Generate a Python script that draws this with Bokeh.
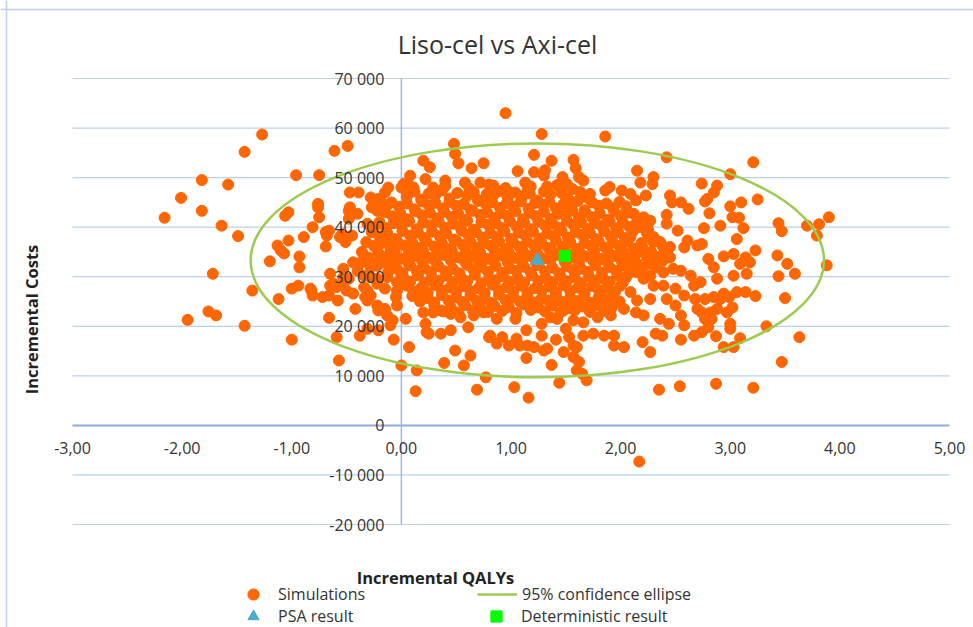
import math
from bokeh.plotting import figure
from bokeh.models import (ColumnDataSource, Range1d, Span, Label, LabelSet, Legend, LegendItem)
from bokeh.core.properties import value
from bokeh.embed import file_html
from bokeh.resources import INLINE

# ---------------- texts ----------------
TITLE = "Liso-cel vs Axi-cel"
X_LABEL = "Incremental QALYs"
Y_LABEL = "Incremental Costs"
legend_labels = ["Simulations", "95% confidence ellipse", "PSA result", "Deterministic result"]

x_min, x_max = -3, 5
y_min, y_max = -20000, 70000
x_ticks = [-3, -2, -1, 0, 1, 2, 3, 4, 5]
x_tick_labels = ["-3,00", "-2,00", "-1,00", "0,00", "1,00", "2,00", "3,00", "4,00", "5,00"]
y_ticks = [-20000, -10000, 0, 10000, 20000, 30000, 40000, 50000, 60000, 70000]
y_tick_labels = ["-20 000", "-10 000", "0", "10 000", "20 000", "30 000", "40 000",
                 "50 000", "60 000", "70 000"]

# ---------------- simulations (QALYs, costs in thousands) ----------------
left_qaly = [
    -2.16, -2.01, -1.82, -1.82, -1.58, -1.64, -1.49, -1.43, -1.27, -0.96,
    -0.75, -0.61, -0.49, -1.72, -1.95, -1.76, -1.69, -1.43, -1.00, -0.66,
    -0.59, -0.57, -0.38, -1.03, -1.06, -0.76, -0.76, -0.75, -0.81, -0.69,
    -0.68, -0.89, -1.03, -1.13, -1.10, -1.07, -0.69, -0.93, -1.20, -0.93,
    -0.56, -0.51, -0.45, -0.48, -0.40, -0.47, -0.47, -0.39, -0.28, -0.21,
    -0.12, -0.15, -0.27, -0.22, -0.13, -0.31, -0.25, -0.04, 0.08, 0.20,
    0.22, 0.07, 0.11, 0.02, -0.53, -0.44, -0.34, -0.16, -0.28, -0.40,
    -0.65, -1.36, -1.12, -1.00, -0.94, -0.82, -0.81, -0.66, -0.65, -0.59,
    -0.53, -0.50, -0.33, -0.28, -0.42, -0.22, -0.21, -0.15, -0.13, -0.08,
    -0.10, -0.04, -0.05, -0.21, -0.31, -0.48, -0.34, -0.22, -0.13, -0.04,
    -0.01, -0.34, -0.22, -0.15, -0.04, -0.19, -0.48, -0.54, -0.66, -0.15,
    -0.37, -0.31, -0.25, -0.19, -0.13, -0.28, -0.53, -0.62, -0.44, -0.31,
    -0.31, -0.58, -0.72, -0.83, 0.00,
]
left_cost_k = [
    41.9, 45.9, 49.5, 43.3, 48.6, 40.3, 38.2, 55.2, 58.7, 50.5,
    50.5, 55.4, 56.4, 30.6, 21.3, 23.0, 22.2, 20.1, 17.3, 21.7,
    17.8, 13.1, 18.1, 43.0, 42.3, 44.7, 44.0, 42.0, 40.0, 39.0,
    38.3, 38.0, 37.3, 36.3, 35.3, 34.7, 36.1, 34.1, 33.1, 31.9,
    38.0, 37.0, 38.3, 43.3, 42.7, 44.0, 47.0, 47.0, 46.0, 45.7,
    48.0, 47.0, 44.0, 43.3, 44.4, 40.7, 40.0, 41.3, 50.4, 53.4,
    49.7, 48.4, 48.0, 48.7, 31.6, 32.9, 33.3, 33.9, 31.9, 31.2,
    30.6, 27.2, 25.5, 27.6, 28.2, 27.2, 26.2, 26.2, 28.2, 27.9,
    28.6, 27.2, 25.9, 26.2, 23.5, 24.2, 23.2, 23.5, 22.2, 21.2,
    20.2, 24.2, 25.9, 19.2, 19.5, 29.6, 30.2, 29.6, 29.9, 28.9,
    30.9, 27.9, 28.6, 27.6, 27.2, 45.4, 41.7, 38.6, 39.3, 37.3,
    32.9, 33.6, 32.6, 33.6, 32.6, 29.9, 29.9, 28.6, 26.6, 27.2,
    25.2, 25.2, 25.9, 27.6, 48.0,
]

low_qaly = [
    -0.07, 0.04, 0.07, 0.00, 0.14, 0.13, 0.20, 0.22, 0.23, 0.19,
    0.29, 0.36, 0.45, 0.54, 0.66, 0.75, 0.25, 0.36, 0.45, 0.61,
    0.80, 0.49, 0.63, 0.57, 0.39, 0.69, 0.77, 1.03, 1.16, 1.44,
    1.69, 1.65, 1.60, 1.62, 1.57, 1.37, 1.14, 0.81, 0.87, 0.92,
    0.98, 1.05, 1.08, 1.15, 1.21, 1.30, 1.33, 1.28, 1.41, 1.48,
    1.14, 1.28, 1.04, 0.87, 1.50, 1.53, 1.57, 1.60, 1.66, 1.75,
    1.85, 1.94, 2.03, 1.94, 1.36, 1.42, 1.48, 1.57, 1.66, 1.79,
    1.91, 2.03, 2.17,
]
low_cost_k = [
    17.3, 21.5, 15.8, 12.1, 11.1, 6.9, 22.8, 20.5, 18.8, 26.6,
    22.8, 23.2, 22.5, 21.8, 22.2, 22.8, 18.5, 18.5, 19.2, 19.8,
    17.8, 15.1, 14.1, 12.1, 12.6, 7.2, 9.7, 7.7, 5.6, 8.6,
    9.1, 10.4, 11.1, 12.8, 13.8, 12.2, 13.6, 18.1, 16.5, 17.8,
    16.1, 17.5, 16.1, 16.1, 15.8, 15.1, 15.5, 18.1, 17.3, 14.8,
    19.2, 20.5, 21.5, 21.5, 19.5, 17.8, 16.1, 15.8, 18.1, 18.5,
    18.1, 16.1, 15.8, 18.1, 21.8, 21.5, 23.2, 21.2, 20.8, 21.8,
    22.2, 23.5, -7.3,
]

right_qaly = [
    2.35, 2.54, 2.87, 3.21, 3.47, 3.63, 3.50, 3.44, 3.59, 3.23,
    3.33, 3.09, 3.03, 2.94, 2.87, 3.00, 3.00, 2.55, 2.38, 2.32,
    2.20, 2.27, 2.67, 2.74, 2.80, 2.83, 2.77, 2.70, 2.74, 2.82,
    2.88, 2.97, 3.02, 3.06, 3.14, 2.99, 2.91, 2.85, 2.77, 2.68,
    2.58, 2.50, 2.42, 2.39, 2.27, 2.15, 2.14, 2.21, 2.36, 2.44,
    2.58, 2.55, 2.50, 2.67, 2.73, 2.88, 3.03, 3.15, 2.64, 2.55,
    2.39, 2.15, 2.21, 2.27, 2.30, 2.09, 2.94, 3.88, 3.23, 3.43,
    3.52, 3.03, 3.14, 3.18, 3.09, 2.94, 2.80, 2.85, 2.70, 2.58,
    2.52, 2.61, 2.74, 2.48, 2.39, 2.27, 2.21, 2.15, 2.24, 2.12,
    2.33, 2.10, 2.38, 2.39, 2.45, 2.20, 2.30, 2.09, 2.26, 2.18,
]
right_cost_k = [
    7.2, 7.9, 8.4, 7.6, 12.8, 17.8, 25.7, 30.1, 30.6, 26.1,
    20.0, 17.6, 15.8, 15.8, 18.0, 19.5, 20.5, 17.3, 18.1, 18.5,
    16.8, 14.8, 18.1, 18.8, 19.8, 21.5, 21.5, 23.5, 22.8, 22.8,
    23.5, 22.8, 23.8, 26.9, 26.9, 25.9, 25.5, 25.9, 25.5, 25.5,
    26.2, 27.6, 25.5, 28.2, 25.5, 25.2, 22.8, 22.2, 21.5, 20.5,
    20.2, 22.2, 24.2, 28.2, 28.9, 29.6, 30.2, 30.6, 30.2, 31.2,
    30.9, 30.9, 29.6, 30.2, 28.2, 26.9, 26.6, 32.3, 35.3, 34.3,
    32.6, 34.6, 33.9, 32.9, 32.6, 34.1, 33.6, 31.9, 36.3, 35.9,
    39.3, 37.3, 36.6, 31.6, 33.3, 32.6, 35.3, 32.6, 33.9, 33.9,
    31.9, 31.9, 36.3, 34.6, 33.9, 36.0, 37.0, 38.0, 38.0, 40.0,
]

high_qaly = [
    0.95, 1.28, 1.86, 0.48, 0.49, 0.52, 0.64, 0.75, 1.21, 1.37,
    1.57, 1.59, 1.06, 1.21, 1.31, 1.30, 1.47, 1.62, 1.66, 1.51,
    0.40, 0.29, 0.26, 0.58, 0.72, 0.84, 0.99, 1.13, 1.15, 1.33,
    1.86, 2.01, 1.72, 2.42, 3.21, 3.00, 2.15, 2.18, 2.30, 2.29,
    2.74, 2.88, 2.85, 2.79, 2.77, 2.45, 2.55, 2.62, 2.47, 3.00,
    3.10, 3.25, 2.81, 2.42, 2.42, 3.02, 3.08, 2.76, 2.91, 3.12,
    3.06, 3.44, 3.47, 3.70, 3.81, 3.79, 3.90, 2.09, 2.14, 2.23,
    2.12, 2.21, 2.27,
]
high_cost_k = [
    63.0, 58.8, 58.3, 56.8, 54.8, 52.9, 51.9, 52.9, 54.6, 53.4,
    53.6, 51.9, 51.3, 51.1, 51.5, 50.4, 50.1, 50.1, 49.4, 48.7,
    49.4, 48.0, 52.1, 49.0, 49.0, 48.4, 47.0, 49.0, 47.4, 48.2,
    47.4, 47.4, 46.7, 54.1, 53.1, 50.7, 51.4, 49.0, 50.1, 48.7,
    48.8, 48.4, 47.0, 45.7, 45.2, 46.4, 45.0, 43.7, 45.0, 44.2,
    45.0, 45.6, 42.8, 42.5, 40.7, 42.0, 41.9, 39.8, 40.3, 39.8,
    37.6, 40.8, 39.2, 40.3, 40.6, 38.3, 42.0, 46.7, 45.4, 46.4,
    42.7, 42.0, 41.3,
]

core_qaly = [
    0.40, 0.62, 0.80, 0.95, 1.18, 1.42, 1.56, 1.90,
    0.05, 0.18, 0.31, 0.44, 0.60, 0.70, 0.85, 0.97, 1.10, 1.24, 1.36, 1.52, 1.70,
    -0.02, 0.12, 0.25, 0.38, 0.50, 0.63, 0.77, 0.90, 1.02, 1.16, 1.29, 1.41, 1.55, 1.67, 1.80, 1.93, 2.05,
    -0.08, 0.06, 0.19, 0.33, 0.46, 0.58, 0.72, 0.85, 0.97, 1.11, 1.23, 1.36, 1.49, 1.62, 1.74, 1.88, 2.00,
    -0.14, 0.00, 0.14, 0.27, 0.40, 0.53, 0.66, 0.79, 0.92, 1.05, 1.18, 1.31, 1.44, 1.57, 1.70, 1.83, 1.96, 2.08, 2.25,
    -0.20, -0.06, 0.08, 0.21, 0.35, 0.48, 0.61, 0.74, 0.87, 1.00, 1.13, 1.26, 1.39, 1.52, 1.65, 1.78, 1.91, 2.04, 2.30,
    -0.25, -0.10, 0.03, 0.16, 0.30, 0.43, 0.56, 0.69, 0.82, 0.95, 1.08, 1.21, 1.34, 1.47, 1.60, 1.73, 1.86, 1.99, 2.12, 2.45,
    -0.30, -0.12, 0.00, 0.13, 0.26, 0.39, 0.52, 0.65, 0.78, 0.91, 1.04, 1.17, 1.30, 1.43, 1.56, 1.69, 1.82, 1.95, 2.08, 2.32,
    -0.22, -0.05, 0.08, 0.21, 0.34, 0.47, 0.60, 0.73, 0.86, 0.99, 1.12, 1.25, 1.38, 1.51, 1.64, 1.77, 1.90, 2.03, 2.20,
    0.02, 0.15, 0.28, 0.41, 0.54, 0.67, 0.80, 0.93, 1.06, 1.19, 1.32, 1.45, 1.58, 1.71, 1.84, 1.97, 2.05,
    0.05, 0.18, 0.31, 0.44, 0.57, 0.70, 0.83, 0.96, 1.09, 1.22, 1.35, 1.48, 1.61, 1.74, 1.87, 2.00,
    0.10, 0.24, 0.37, 0.50, 0.63, 0.76, 0.89, 1.02, 1.15, 1.28, 1.41, 1.54, 1.67, 1.80, 1.93,
    0.30, 0.45, 0.58, 0.72, 0.85, 0.98, 1.12, 1.25, 1.38, 1.52, 1.65, 1.78, 1.92,
]
core_cost_k = [
    48.3, 47.8, 48.6, 47.9, 48.2, 48.5, 47.7, 48.1,
    46.2, 45.6, 46.5, 45.8, 46.3, 45.5, 46.7, 45.9, 46.1, 45.4, 46.6, 45.8, 45.9,
    44.1, 43.6, 44.4, 43.8, 44.3, 43.5, 44.6, 43.9, 44.2, 43.7, 44.5, 43.8, 44.1, 43.4, 44.3, 43.9, 44.2,
    42.2, 41.6, 42.4, 41.8, 42.1, 41.5, 42.5, 41.9, 42.3, 41.6, 42.2, 41.7, 42.4, 41.9, 42.0, 41.5, 42.3,
    39.8, 40.3, 39.6, 40.4, 39.9, 40.2, 39.5, 40.5, 39.8, 40.1, 39.6, 40.3, 39.9, 40.4, 39.7, 40.2, 39.8, 40.1, 39.6,
    38.1, 37.6, 38.3, 37.8, 38.2, 37.5, 38.4, 37.9, 38.0, 37.6, 38.3, 37.7, 38.2, 37.9, 38.4, 37.6, 38.1, 37.8, 38.0,
    36.2, 35.7, 36.3, 35.8, 36.1, 35.6, 36.4, 35.9, 36.2, 35.7, 36.0, 36.3, 35.8, 36.1, 35.6, 36.3, 35.9, 36.2, 35.7, 36.0,
    33.9, 34.3, 33.7, 34.2, 33.8, 34.4, 33.9, 34.1, 33.6, 34.3, 33.8, 34.2, 33.7, 34.4, 33.9, 34.1, 33.6, 34.2, 33.8, 34.0,
    32.2, 31.8, 32.3, 31.7, 32.1, 31.6, 32.4, 31.9, 32.2, 31.7, 32.0, 32.3, 31.8, 32.1, 31.6, 32.3, 31.9, 32.2, 31.8,
    29.8, 30.3, 29.7, 30.2, 29.9, 30.4, 29.6, 30.1, 29.8, 30.3, 29.7, 30.2, 29.9, 30.1, 29.6, 30.3, 29.9,
    28.2, 27.7, 28.3, 27.8, 28.1, 27.6, 28.4, 27.9, 28.2, 27.7, 28.0, 28.3, 27.8, 28.1, 27.6, 28.2,
    26.1, 25.7, 26.3, 25.8, 26.2, 25.6, 26.4, 25.9, 26.1, 25.7, 26.2, 25.8, 26.3, 25.9, 26.0,
    24.2, 23.8, 24.3, 23.7, 24.1, 23.9, 24.4, 23.8, 24.2, 23.7, 24.0, 24.3, 23.8,
]

fill_qaly = [
    0.12, 0.25, 0.37, 0.51, 0.66, 0.78, 0.91, 1.04, 1.17, 1.30, 1.46, 1.63,
    -0.09, 0.05, 0.19, 0.31, 0.44, 0.57, 0.70, 0.83, 0.96, 1.09, 1.22, 1.35, 1.48, 1.61, 1.74, 1.87, 1.99,
    -0.15, -0.01, 0.13, 0.26, 0.39, 0.52, 0.65, 0.78, 0.91, 1.04, 1.17, 1.30, 1.43, 1.56, 1.68, 1.81, 1.94, 2.06,
    -0.20, -0.07, 0.07, 0.20, 0.34, 0.47, 0.60, 0.73, 0.86, 0.99, 1.12, 1.25, 1.38, 1.51, 1.64, 1.77, 1.90, 2.02, 2.15,
    -0.27, -0.13, 0.01, 0.15, 0.28, 0.41, 0.55, 0.68, 0.81, 0.94, 1.07, 1.20, 1.33, 1.46, 1.59, 1.72, 1.85, 1.98, 2.11, 2.24,
    -0.32, -0.18, -0.04, 0.10, 0.23, 0.37, 0.50, 0.63, 0.76, 0.89, 1.02, 1.15, 1.28, 1.41, 1.54, 1.67, 1.80, 1.93, 2.06, 2.19, 2.36,
    -0.36, -0.21, -0.06, 0.07, 0.20, 0.33, 0.46, 0.59, 0.72, 0.85, 0.98, 1.11, 1.24, 1.37, 1.50, 1.63, 1.76, 1.89, 2.02, 2.15, 2.28,
    -0.33, -0.20, -0.07, 0.06, 0.19, 0.32, 0.45, 0.58, 0.71, 0.84, 0.97, 1.10, 1.23, 1.36, 1.49, 1.62, 1.75, 1.88, 2.01, 2.14, 2.27,
    -0.12, 0.01, 0.14, 0.27, 0.40, 0.53, 0.66, 0.79, 0.92, 1.05, 1.18, 1.31, 1.44, 1.57, 1.70, 1.83, 1.96, 2.09,
    0.08, 0.21, 0.34, 0.47, 0.60, 0.73, 0.86, 0.99, 1.12, 1.25, 1.38, 1.51, 1.64, 1.77, 1.90, 2.02,
    0.11, 0.24, 0.37, 0.50, 0.63, 0.76, 0.89, 1.02, 1.15, 1.28, 1.41, 1.54, 1.67, 1.80, 1.95,
    0.17, 0.30, 0.43, 0.56, 0.69, 0.82, 0.95, 1.08, 1.21, 1.34, 1.47, 1.60, 1.73, 1.86, 1.99,
    0.38, 0.52, 0.65, 0.79, 0.92, 1.05, 1.18, 1.31, 1.45, 1.58, 1.72, 1.85,
]
fill_cost_k = [
    47.2, 46.8, 47.4, 46.9, 47.1, 46.7, 47.3, 47.0, 46.8, 47.2, 46.9, 47.1,
    45.0, 44.8, 45.2, 44.9, 45.1, 44.7, 45.3, 45.0, 44.8, 45.2, 44.9, 45.1, 44.7, 45.3, 45.0, 44.8, 45.1,
    43.0, 42.8, 43.2, 42.9, 43.1, 42.7, 43.3, 43.0, 42.8, 43.2, 42.9, 43.1, 42.7, 43.3, 43.0, 42.8, 43.2, 42.9,
    41.0, 40.8, 41.2, 40.9, 41.1, 40.7, 41.3, 41.0, 40.8, 41.2, 40.9, 41.1, 40.7, 41.3, 41.0, 40.8, 41.2, 40.9, 41.1,
    39.0, 38.8, 39.2, 38.9, 39.1, 38.7, 39.3, 39.0, 38.8, 39.2, 38.9, 39.1, 38.7, 39.3, 39.0, 38.8, 39.2, 38.9, 39.1, 38.8,
    37.0, 36.8, 37.2, 36.9, 37.1, 36.7, 37.3, 37.0, 36.8, 37.2, 36.9, 37.1, 36.7, 37.3, 37.0, 36.8, 37.2, 36.9, 37.1, 36.8, 37.0,
    35.0, 34.8, 35.2, 34.9, 35.1, 34.7, 35.3, 35.0, 34.8, 35.2, 34.9, 35.1, 34.7, 35.3, 35.0, 34.8, 35.2, 34.9, 35.1, 34.8, 35.0,
    33.0, 32.8, 33.2, 32.9, 33.1, 32.7, 33.3, 33.0, 32.8, 33.2, 32.9, 33.1, 32.7, 33.3, 33.0, 32.8, 33.2, 32.9, 33.1, 32.8, 33.0,
    31.0, 30.8, 31.2, 30.9, 31.1, 30.7, 31.3, 31.0, 30.8, 31.2, 30.9, 31.1, 30.7, 31.3, 31.0, 30.8, 31.2, 30.9,
    29.0, 28.8, 29.2, 28.9, 29.1, 28.7, 29.3, 29.0, 28.8, 29.2, 28.9, 29.1, 28.7, 29.3, 29.0, 28.8,
    27.0, 26.8, 27.2, 26.9, 27.1, 26.7, 27.3, 27.0, 26.8, 27.2, 26.9, 27.1, 26.7, 27.3, 27.0,
    25.0, 24.8, 25.2, 24.9, 25.1, 24.7, 25.3, 25.0, 24.8, 25.2, 24.9, 25.1, 24.7, 25.3, 25.0,
    23.0, 22.8, 23.2, 22.9, 23.1, 22.7, 23.3, 23.0, 22.8, 23.2, 22.9, 23.1,
]

# ---------------- summary results ----------------
psa_qaly, psa_cost = 1.24, 33300
det_qaly, det_cost = 1.49, 34200
ellipse_center_qaly, ellipse_center_cost = 1.24, 33300
ellipse_width_qaly, ellipse_height_cost = 5.23, 47200

groups = [("left", left_qaly, left_cost_k), ("low", low_qaly, low_cost_k),
          ("right", right_qaly, right_cost_k), ("high", high_qaly, high_cost_k),
          ("core", core_qaly, core_cost_k), ("fill", fill_qaly, fill_cost_k)]
qaly, cost = [], []
for name, q, c in groups:
    assert len(q) == len(c), (name, len(q), len(c))
    qaly += q
    cost += [v * 1000 for v in c]

# ---------------- layout (page pixels) ----------------
W, H = 973, 627
PLOT_L, PLOT_R, PLOT_T, PLOT_B = 72, 949, 78, 524
px_per_x = (PLOT_R - PLOT_L) / (x_max - x_min)
px_per_y = (PLOT_B - PLOT_T) / (y_max - y_min)
xr = Range1d(x_min - PLOT_L / px_per_x, x_max + (W - PLOT_R) / px_per_x)
yr = Range1d(y_min - (H - PLOT_B) / px_per_y, y_max + PLOT_T / px_per_y)

FONT = "Open Sans"
ORANGE = "#FF6600"
GREEN = "#9DCB50"
AQUA = "#4BACC6"
LIME = "#00FF00"
TEXT = "#333333"
GRID = "#BDD0EE"

p = figure(width=W, height=H, x_range=xr, y_range=yr,
           x_axis_location=None, y_axis_location=None, toolbar_location=None,
           output_backend="svg", min_border=0)
p.outline_line_color = None
p.grid.visible = False

# chart border (top and left, like the spreadsheet chart area)
p.add_layout(Span(location=6, location_units="screen", dimension="height",
                  line_color="#BCCFEE", line_width=1.5))
p.add_layout(Span(location=H - 9, location_units="screen", dimension="width",
                  line_color="#BCCFEE", line_width=1.5))

# gridlines and axis lines
gsrc = ColumnDataSource(dict(y=[t for t in y_ticks if t != 0]))
p.segment(x0=x_min, x1=x_max, y0="y", y1="y", source=gsrc, line_color=GRID, line_width=1.2)
p.segment(x0=[x_min], x1=[x_max], y0=[0], y1=[0], line_color="#8FAADC", line_width=2)
p.segment(x0=[0], x1=[0], y0=[y_min], y1=[y_max], line_color="#9DB7E6", line_width=1.5)

src = ColumnDataSource(dict(qaly=qaly, cost=cost))
r_sim = p.scatter(x="qaly", y="cost", source=src, marker="circle", size=11,
                  fill_color=ORANGE, line_color=ORANGE)
r_ell = p.ellipse(x=[ellipse_center_qaly], y=[ellipse_center_cost], width=[ellipse_width_qaly],
                  height=[ellipse_height_cost], fill_color=None, line_color=GREEN, line_width=2.5)
# legend key for the ellipse (no visible data)
r_ell_key = p.line(x=[float("nan")], y=[float("nan")], line_color=GREEN, line_width=2.5)
r_psa = p.scatter(x=[psa_qaly], y=[psa_cost], marker="triangle", size=14,
                  fill_color=AQUA, line_color=AQUA)
r_det = p.scatter(x=[det_qaly], y=[det_cost], marker="square", size=11,
                  fill_color=LIME, line_color=LIME)

# tick labels
xsrc = ColumnDataSource(dict(x=x_ticks, y=[0] * len(x_ticks), text=x_tick_labels))
p.add_layout(LabelSet(x="x", y="y", text="text", source=xsrc, text_align="center",
                      text_baseline="middle", y_offset=-23, text_font=value(FONT),
                      text_font_size="16px", text_color=TEXT))
ysrc = ColumnDataSource(dict(x=[0] * len(y_ticks), y=y_ticks, text=y_tick_labels))
p.add_layout(LabelSet(x="x", y="y", text="text", source=ysrc, text_align="right",
                      text_baseline="middle", x_offset=-17, text_font=value(FONT),
                      text_font_size="16px", text_color=TEXT))

# titles (screen units measured from bottom-left of the canvas)
p.add_layout(Label(x=497, y=H - 43, x_units="screen", y_units="screen", text=TITLE,
                   text_align="center", text_baseline="middle", text_font=FONT,
                   text_font_size="25px", text_color=TEXT))
p.add_layout(Label(x=435, y=H - 577, x_units="screen", y_units="screen", text=X_LABEL,
                   text_align="center", text_baseline="middle", text_font=FONT,
                   text_font_size="16.5px", text_font_style="bold", text_color="#222222"))
p.add_layout(Label(x=31, y=H - 319, x_units="screen", y_units="screen", text=Y_LABEL,
                   angle=math.pi / 2, text_align="center", text_baseline="middle",
                   text_font=FONT, text_font_size="16.5px", text_font_style="bold",
                   text_color="#222222"))

# legends: one entry per legend so each sits exactly where the reference has it
GH = 28
def make_legend(label, renderer, left_px, center_py):
    lg = Legend(items=[LegendItem(label=label, renderers=[renderer])],
                location=(left_px, H - center_py - GH / 2), orientation="vertical",
                border_line_color=None, background_fill_alpha=0, padding=0, margin=0,
                spacing=0, glyph_width=40, glyph_height=GH, label_height=GH,
                label_standoff=5, label_text_font=FONT, label_text_font_size="16px",
                label_text_color=TEXT)
    p.add_layout(lg)

make_legend(legend_labels[0], r_sim, 233, 594)
make_legend(legend_labels[2], r_psa, 233, 616)
make_legend(legend_labels[1], r_ell_key, 477, 594)
make_legend(legend_labels[3], r_det, 476, 616)

open("out.html", "w").write(file_html(p, INLINE))
